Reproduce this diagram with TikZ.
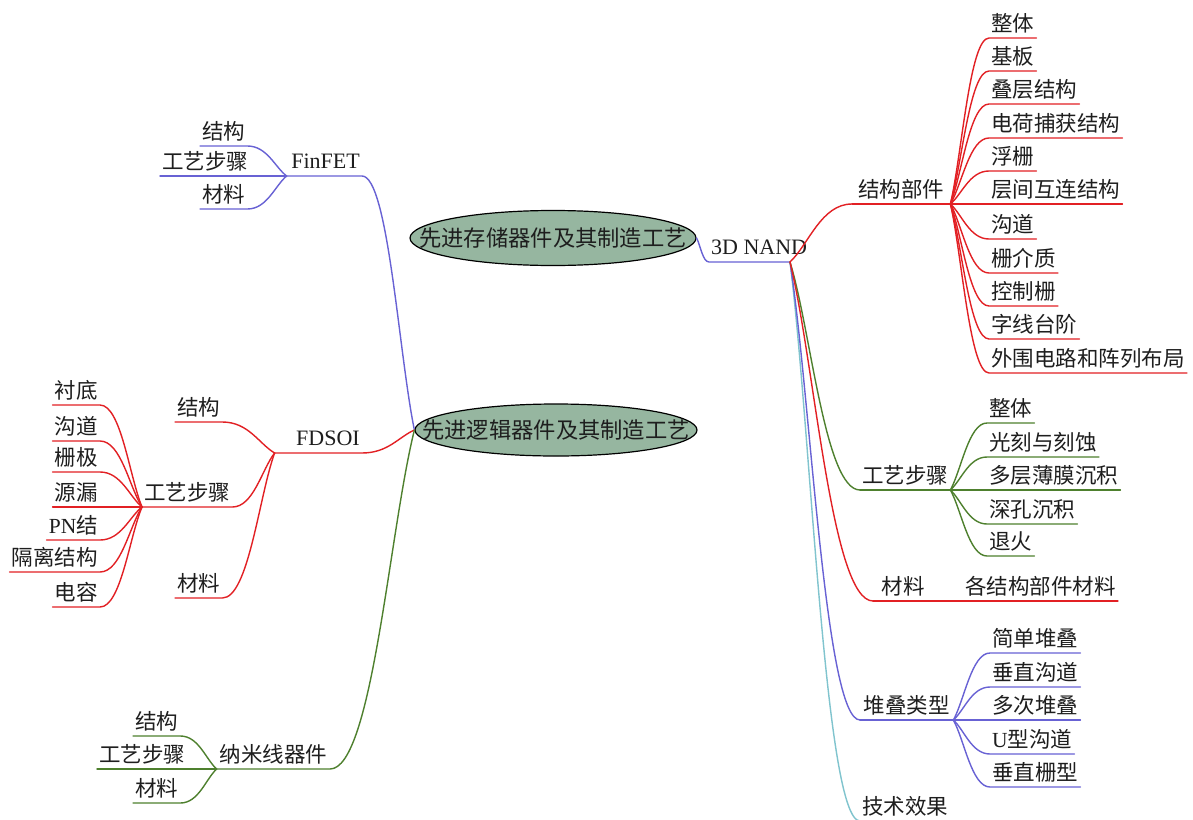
\documentclass[tikz,border=0pt]{standalone}
\usepackage{fontspec}
\setmainfont{Liberation Serif}
\newfontfamily\cjk{Noto Sans CJK SC}
\usetikzlibrary{shapes.geometric,calc}
\definecolor{redL}{RGB}{226,32,36}
\definecolor{greenL}{RGB}{78,128,46}
\definecolor{blueL}{RGB}{104,98,212}
\definecolor{cyanL}{RGB}{128,196,206}
\definecolor{rootfill}{RGB}{150,182,160}
\definecolor{txt}{RGB}{30,30,30}
\newcommand\latn[1]{{\rmfamily #1}}
\begin{document}
\begin{tikzpicture}[x=1pt,y=-1pt,
  lbl/.style={inner xsep=2pt,inner ysep=4pt,text depth=2pt,text height=16pt,
              font=\cjk\fontsize{21.5}{24}\selectfont,text=txt},
  ltn/.style={lbl,inner ysep=5.5pt,font=\rmfamily\fontsize{22}{24}\selectfont},
  rt/.style={anchor=south west},
  lf/.style={anchor=south east},
  br/.style={to path={.. controls ($(\tikztostart)!0.3!(\tikztotarget)$)
              and ($(\tikztotarget)!0.5!(\tikztostart |- \tikztotarget)$) .. (\tikztotarget)}},
  cn/.style={line width=1.4pt,line cap=round},
  root/.style={ellipse,draw=black,line width=1.2pt,fill=rootfill,inner sep=0pt,
              text=txt,font=\cjk\fontsize{22.3}{24}\selectfont}
]
\useasboundingbox (0,0) rectangle (1193,819);
\fill[white] (0,0) rectangle (1193,819);

% ---------- roots ----------
\node[root,minimum width=286pt,minimum height=55pt] (e1) at (553,238)
  {\makebox[0pt]{先进存储器件及其制造工艺}};
\node[root,minimum width=282pt,minimum height=52pt] (e2) at (556,430)
  {\makebox[0pt]{先进逻辑器件及其制造工艺}};

% ---------- 3D NAND ----------
\node[ltn,rt] (nand) at (709,262) {3D NAND};
\coordinate (j) at (790,262);
\draw[cn,blueL] (e1.east) to[br] (nand.south west) -- (j);

\node[lbl,rt,minimum width=98pt] (jg) at (852,204) {结构部件};
\node[lbl,rt,minimum width=88pt] (gy) at (860,490) {工艺步骤};
\node[lbl,rt,minimum width=60pt] (cl) at (873,601) {材料};
\node[lbl,rt] (cl1) at (963,601) {各结构部件材料};
\node[lbl,rt,minimum width=93pt] (dd) at (860,720) {堆叠类型};
\node[lbl,rt] (xg) at (860,821) {技术效果};

\draw[cn,cyanL] (j) to[br] (xg.south west);
\draw[cn,blueL] (j) to[br] (dd.south west);
\draw[cn,greenL] (j) to[br] (gy.south west);
\draw[cn,redL] (j) to[br] (cl.south west);
\draw[cn,redL] (j) to[br] (jg.south west);

\draw[cn,redL] (jg.south west) -- (jg.south east);
\draw[cn,greenL] (gy.south west) -- (gy.south east);
\draw[cn,redL] (cl.south west) -- (cl.south east) -- (cl1.south west) -- (cl1.south east);
\draw[cn,blueL] (dd.south west) -- (dd.south east);

\foreach \n/\y/\t in {a1/38/整体,a2/71/基板,a3/104/叠层结构,a4/138/电荷捕获结构,
    a5/171/浮栅,a6/204/层间互连结构,a7/239/沟道,a8/273/栅介质,a9/306/控制栅,
    a10/339/字线台阶,a11/373/外围电路和阵列布局}{
  \node[lbl,rt] (\n) at (989,\y) {\t};
  \draw[cn,redL] (jg.south east) to[br] (\n.south west) -- (\n.south east);
}
\foreach \n/\y/\t in {b1/423/整体,b2/457/光刻与刻蚀,b3/490/多层薄膜沉积,
    b4/524/深孔沉积,b5/556/退火}{
  \node[lbl,rt] (\n) at (987,\y) {\t};
  \draw[cn,greenL] (gy.south east) to[br] (\n.south west) -- (\n.south east);
}
\foreach \n/\y/\t in {d1/653/简单堆叠,d2/687/垂直沟道,d3/720/多次堆叠,
    d4/754/\latn{U}型沟道,d5/787/垂直栅型}{
  \node[lbl,rt] (\n) at (990,\y) {\t};
  \draw[cn,blueL] (dd.south east) to[br] (\n.south west) -- (\n.south east);
}

% ---------- FinFET ----------
\node[ltn,lf,text width=71pt,align=right] (fin) at (362,176) {FinFET};
\draw[cn,blueL] (e2.west) to[br] (fin.south east) -- (fin.south west);
\foreach \n/\x/\y/\t in {f1/200/146/结构,f2/160/176/工艺步骤,f3/200/209/材料}{
  \node[lbl,rt] (\n) at (\x,\y) {\t};
  \draw[cn,blueL] (fin.south west) to[br] (\n.south east) -- (\n.south west);
}

% ---------- FDSOI ----------
\node[ltn,lf,text width=83pt,align=right] (fd) at (362,453) {FDSOI};
\draw[cn,redL] (e2.west) to[br] (fd.south east) -- (fd.south west);
\foreach \n/\x/\y/\t in {s1/175/422/结构,s2/142/507/工艺步骤,s3/175/598/材料}{
  \node[lbl,rt] (\n) at (\x,\y) {\t};
  \draw[cn,redL] (fd.south west) to[br] (\n.south east) -- (\n.south west);
}
\foreach \n/\y/\t in {c1/405/衬底,c2/441/沟道,c3/472/栅极,c4/507/源漏,
    c5/540/\latn{PN}结,c6/572/隔离结构,c7/607/电容}{
  \node[lbl,lf] (\n) at (100,\y) {\t};
  \draw[cn,redL] (s2.south west) to[br] (\n.south east) -- (\n.south west);
}

% ---------- 纳米线器件 ----------
\node[lbl,lf,minimum width=113pt] (nw) at (330,769) {纳米线器件};
\draw[cn,greenL] (e2.west) to[br] (nw.south east) -- (nw.south west);
\foreach \n/\x/\y/\t in {n1/133/736/结构,n2/97/769/工艺步骤,n3/133/803/材料}{
  \node[lbl,rt] (\n) at (\x,\y) {\t};
  \draw[cn,greenL] (nw.south west) to[br] (\n.south east) -- (\n.south west);
}
\end{tikzpicture}
\end{document}
